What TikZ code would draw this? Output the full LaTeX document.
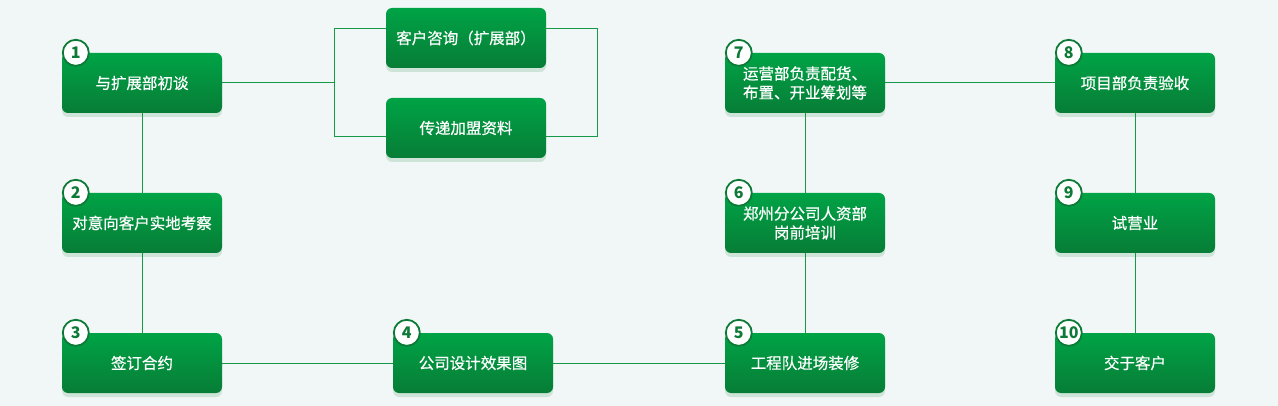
\documentclass[tikz,border=0pt]{standalone}
\usepackage{fontspec}
\setmainfont{Noto Sans CJK SC}
\newfontfamily\boxfont[FakeBold=0.6]{Noto Sans CJK SC}
\usetikzlibrary{shadows,shadings,calc}
\definecolor{bgc}{HTML}{F1F7F6}
\definecolor{gtop}{HTML}{00A346}
\definecolor{gbot}{HTML}{077D36}
\definecolor{lnc}{HTML}{17994A}
\definecolor{numc}{HTML}{0E7A37}
\pgfdeclarelayer{bg}
\pgfdeclarelayer{lines}
\pgfsetlayers{bg,lines,main}

\begin{document}
\begin{tikzpicture}[x=1pt,y=-1pt,
  stepbox/.style={rounded corners=6pt,minimum width=160pt,minimum height=60pt,top color=gtop,bottom color=gbot,draw=none,
    text=white,align=center,font=\boxfont\fontsize{15.5}{19}\selectfont,
    drop shadow={shadow xshift=0pt,shadow yshift=-4pt,opacity=0.15,fill=gbot}},
  num/.style={circle,draw=numc,line width=1.8pt,fill=white,minimum size=26pt,inner sep=0pt,text=numc,font=\fontsize{16}{16}\selectfont\bfseries},
  lnk/.style={draw=lnc,line width=1pt}]
\begin{pgfonlayer}{bg}
\fill[bgc](0,0) rectangle (1278,406);
\end{pgfonlayer}
\useasboundingbox(0,0) rectangle (1278,406);
%boxes
\node[stepbox](s1) at (142,83){与扩展部初谈};
\node[stepbox](s2) at (142,223){对意向客户实地考察};
\node[stepbox](s3) at (142,363){签订合约};
\node[stepbox](s4) at (473,363){公司设计效果图};
\node[stepbox](s5) at (805,363){工程队进场装修};
\node[stepbox](s6) at (805,223){郑州分公司人资部\\岗前培训};
\node[stepbox](s7) at (805,83){运营部负责配货、\\布置、开业筹划等};
\node[stepbox](s8) at (1135,83){项目部负责验收};
\node[stepbox](s9) at (1135,223){试营业};
\node[stepbox](s10) at (1135,363){交于客户};
\node[stepbox](ka) at (466,38){客户咨询（扩展部）};
\node[stepbox](kb) at (466,128){传递加盟资料};
%numbers
\foreach \i in {1,...,10}
  \node[num] at ($(s\i.north west)+(14,0)$){\i};
%links
\begin{pgfonlayer}{lines}
\coordinate (bl) at ($(ka.west)+(-51,45)$);
\draw[lnk](s1)--(bl);
\draw[lnk]($(ka.west)+(-51,-9)$) rectangle ($(kb.east)+(51,9)$);
\foreach \a/\b in {s1/s2,s2/s3,s3/s4,s4/s5,s5/s6,s6/s7,s7/s8,s8/s9,s9/s10}
  \draw[lnk](\a)--(\b);
\end{pgfonlayer}
\end{tikzpicture}
\end{document}
